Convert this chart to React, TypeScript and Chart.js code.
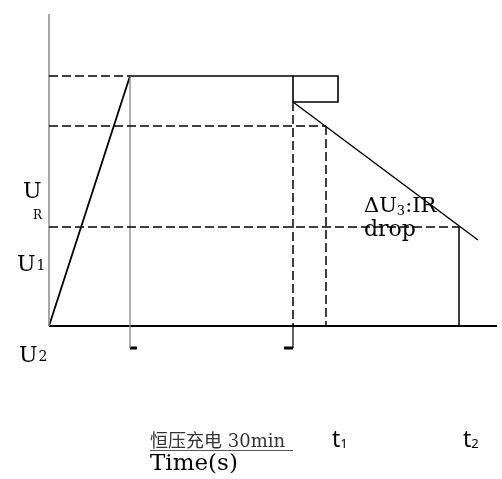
import React, { useEffect, useRef } from "react";
import { Chart, registerables } from "chart.js";

Chart.register(...registerables);

// ---- Axis extents (data units: time along x, voltage along y) ----
const X_MIN = -49;
const X_MAX = 453;
const Y_MIN = -153;
const Y_MAX = 326;

// ---- Time markers ----
const T_START = 0;
const T_RAMP = 81; // end of constant-current ramp
const T_CV_END = 244; // end of 30 min constant-voltage charge
const T_BOX = 289; // right edge of step box
const T_1 = 277;
const T_2 = 410;
const T_DECL_END = 429;
const T_AXIS_END = 448;

// ---- Voltage levels ----
const U_ZERO = 0;
const U_TOP = 250;
const U_STEP = 224;
const U_R = 200;
const U_1 = 99;
const U_DECL_END = 86;
const U_AXIS_TOP = 312;
const U_MARK = -22; // level of the dimension marks below the axis

// ---- Polylines (x, y pairs built from the values above) ----
const yAxisX = [T_START, T_START];
const yAxisY = [U_ZERO, U_AXIS_TOP];
const xAxisX = [T_START, T_AXIS_END];
const xAxisY = [U_ZERO, U_ZERO];
const rampX = [T_START, T_RAMP];
const rampY = [U_ZERO, U_TOP];
const plateauX = [T_RAMP, T_BOX, T_BOX, T_CV_END];
const plateauY = [U_TOP, U_TOP, U_STEP, U_STEP];
const boxLeftX = [T_CV_END, T_CV_END];
const boxLeftY = [U_TOP, U_STEP];
const declineX = [T_CV_END, T_DECL_END];
const declineY = [U_STEP, U_DECL_END];

const labelsText = ["U", "R", "U", "1", "U", "2", "drop", "恒压充电 30min", "Time(s)"];

function pts(xs: number[], ys: number[]) {
  return xs.map((x, i) => ({ x, y: ys[i] }));
}

const DASH = [9, 4];

export default function App() {
  const ref = useRef<HTMLCanvasElement | null>(null);

  useEffect(() => {
    if (!ref.current) return;
    const line = (
      data: { x: number; y: number }[],
      color = "#000",
      width = 1.5,
      dash: number[] = []
    ) => ({
      data,
      showLine: true,
      borderColor: color,
      borderWidth: width,
      borderDash: dash,
      pointRadius: 0,
      fill: false,
      tension: 0,
    });

    const textPlugin = {
      id: "schematicText",
      afterDraw(chart: any) {
        const { ctx, scales } = chart;
        const sx = (v: number) => scales.x.getPixelForValue(v);
        const sy = (v: number) => scales.y.getPixelForValue(v);
        const serif = '"DejaVu Serif", serif';
        const put = (
          t: string,
          x: number,
          y: number,
          size: number,
          family = serif,
          color = "#000"
        ) => {
          ctx.save();
          ctx.font = `${size}px ${family}`;
          ctx.fillStyle = color;
          ctx.textBaseline = "alphabetic";
          ctx.textAlign = "left";
          ctx.fillText(t, x, y);
          const w = ctx.measureText(t).width;
          ctx.restore();
          return w;
        };

        // U_R label
        put(labelsText[0], sx(-26), sy(128), 22);
        put(labelsText[1], sx(-16), sy(107), 12);
        // U1
        let w = put(labelsText[2], sx(-32), sy(55), 22);
        put(labelsText[3], sx(-32) + w + 1, sy(56), 14);
        // U2
        w = put(labelsText[4], sx(-30), sy(-36), 22);
        put(labelsText[5], sx(-30) + w + 1, sy(-35), 14);

        // ΔU3:IR drop
        let x0 = sx(315);
        const yb = sy(114);
        x0 += put("ΔU", x0, yb, 21);
        x0 += put("3", x0, yb + 3, 13);
        put(":IR", x0, yb, 21);
        put(labelsText[6], sx(315), sy(90), 22);

        // Bottom annotations
        const cjkFamily = '"DejaVu Serif", "Noto Sans CJK SC", serif';
        const cw = put(labelsText[7], sx(101), sy(-121), 18, cjkFamily, "#333");
        ctx.save();
        ctx.strokeStyle = "#555";
        ctx.lineWidth = 1;
        ctx.beginPath();
        ctx.moveTo(sx(101), sy(-124) + 0.5);
        ctx.lineTo(sx(101) + cw + 8, sy(-124) + 0.5);
        ctx.stroke();
        ctx.restore();

        const sans = '"Noto Sans", sans-serif';
        let tw = put("t", sx(283), sy(-121), 23, sans);
        put("1", sx(283) + tw, sy(-122), 13, sans);
        tw = put("t", sx(414), sy(-121), 23, sans);
        put("2", sx(414) + tw, sy(-122), 13, sans);

        put(labelsText[8], sx(101), sy(-144), 23);
      },
    };

    const chart = new Chart(ref.current, {
      type: "scatter",
      data: {
        datasets: [
          // dashed guide lines
          line(pts([T_START, T_RAMP], [U_TOP, U_TOP]), "#000", 1.5, DASH),
          line(pts([T_START, T_1], [U_R, U_R]), "#000", 1.5, DASH),
          line(pts([T_START, T_2], [U_1, U_1]), "#000", 1.5, DASH),
          line(pts([T_CV_END, T_CV_END], [U_STEP, U_ZERO]), "#000", 1.5, DASH),
          line(pts([T_1, T_1], [U_R, U_ZERO]), "#000", 1.5, DASH),
          // solid verticals
          line(pts([T_RAMP, T_RAMP], [U_TOP, U_MARK]), "#888", 1.3),
          line(pts([T_CV_END, T_CV_END], [U_ZERO, U_MARK]), "#000", 1.2),
          line(pts([T_2, T_2], [U_1, U_ZERO]), "#000", 1.5),
          // dimension marks
          line(pts([T_RAMP, T_RAMP + 7], [U_MARK, U_MARK]), "#000", 3),
          line(pts([T_CV_END - 9, T_CV_END], [U_MARK, U_MARK]), "#000", 3),
          // axes
          line(pts(yAxisX, yAxisY), "#888", 1.5),
          line(pts(xAxisX, xAxisY), "#000", 2),
          // curve
          line(pts(rampX, rampY), "#000", 1.8),
          line(pts(plateauX, plateauY), "#000", 1.6),
          line(pts(boxLeftX, boxLeftY), "#000", 1.6),
          line(pts(declineX, declineY), "#000", 1.4),
        ] as any,
      },
      options: {
        animation: false,
        responsive: false,
        devicePixelRatio: 1,
        layout: { padding: 0 },
        plugins: {
          legend: { display: false },
          tooltip: { enabled: false },
        },
        scales: {
          x: { type: "linear", min: X_MIN, max: X_MAX, display: false },
          y: { type: "linear", min: Y_MIN, max: Y_MAX, display: false },
        },
      },
      plugins: [textPlugin],
    });
    return () => chart.destroy();
  }, []);

  return (
    <div style={{ position: "absolute", left: 0, top: 0, width: 502, height: 479, background: "#fff" }}>
      <canvas ref={ref} width={502} height={479} />
    </div>
  );
}
